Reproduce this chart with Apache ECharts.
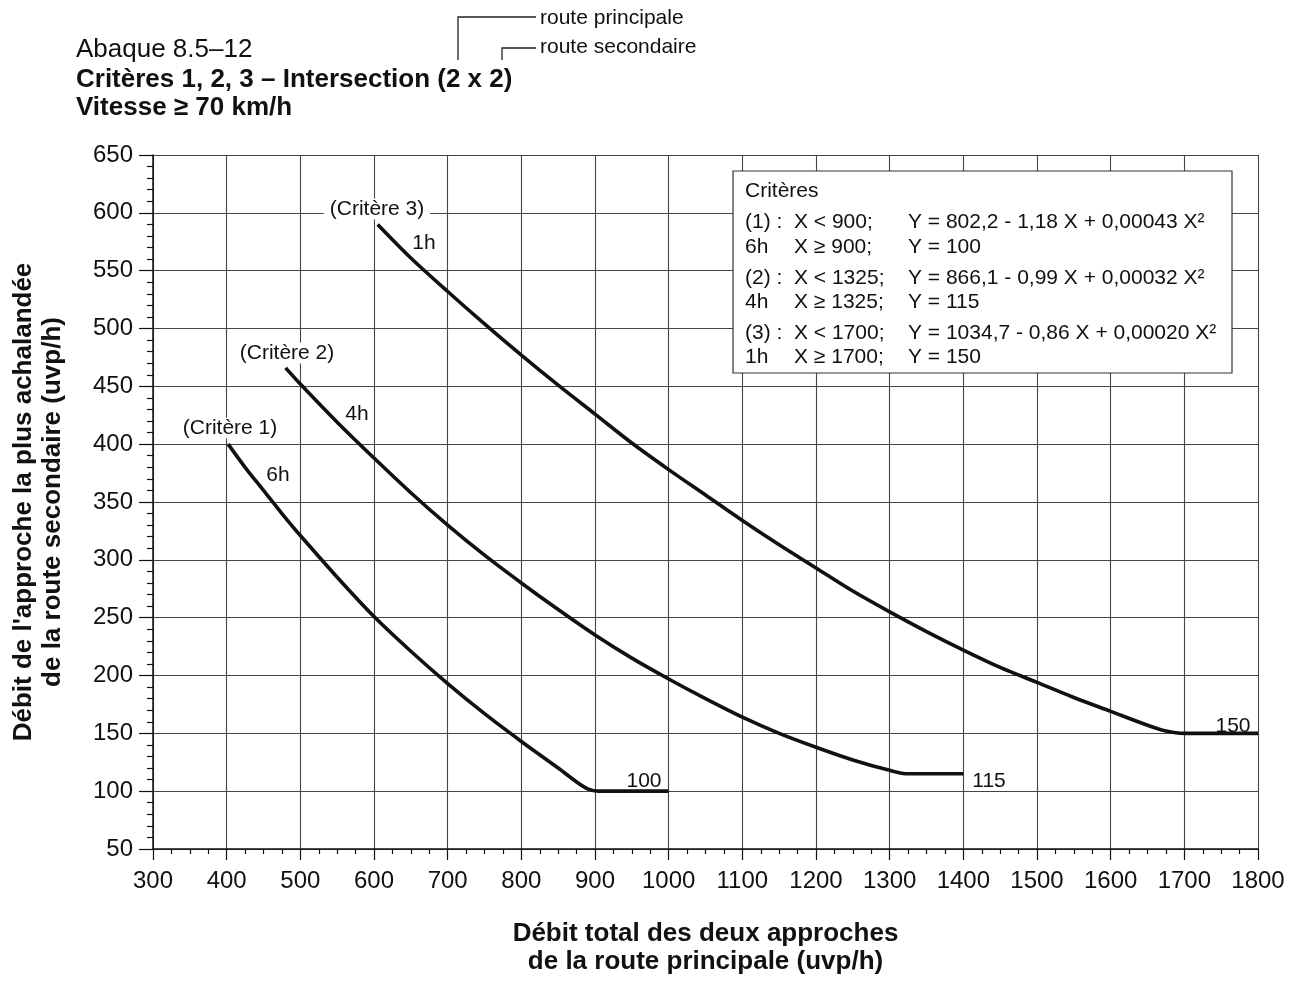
<!DOCTYPE html>
<html>
<head>
<meta charset="utf-8">
<title>Abaque 8.5-12</title>
<script src="https://cdn.jsdelivr.net/npm/echarts@6/dist/echarts.min.js"></script>
<style>
html,body{margin:0;padding:0;background:#fff;}
#chart{width:1300px;height:981px;}
</style>
</head>
<body>
<div id="chart"></div>
<script>
var FONT = "'Liberation Sans', Arial, Helvetica, sans-serif";

// axes
var xTicks = [300,400,500,600,700,800,900,1000,1100,1200,1300,1400,1500,1600,1700,1800];
var yTicks = [50,100,150,200,250,300,350,400,450,500,550,600,650];

// Critère 1 (6h)
var crit1X = [402,425,450,475,500,550,600,650,700,750,800,850,875,890,905,950,1000];
var crit1Y = [400,380,360,340,321,285,251,221,193,167,143,120,108,102,100,100,100];

// Critère 2 (4h)
var crit2X = [480,500,550,600,650,700,750,800,850,900,950,1000,1050,1100,1150,1200,1250,1300,1325,1350,1400];
var crit2Y = [466,452,419,388,358,330,304,280,257,235,215,197,180,164,150,138,127,118,115,115,115];

// Critère 3 (1h)
var crit3X = [605,650,700,750,800,850,900,950,1000,1050,1100,1150,1200,1250,1300,1350,1400,1450,1500,1550,1600,1650,1675,1700,1750,1800];
var crit3Y = [590,561,532,504,477,451,426,401,378,356,334,313,293,273,255,238,222,207,194,181,169,157,152,150,150,150];

function pairs(xs, ys){
	var out = [];
	for(var i=0;i<xs.length;i++){
		out.push([xs[i], ys[i]]);
	}
	return out;
}

function txt(x, y, text, opt){
	opt = opt || {};
	return {
		type: 'text',
		x: x,
		y: y,
		z: 100,
		style: {
			text: text,
			fill: '#111',
			font: (opt.weight || 'normal') + ' ' + (opt.size || 21) + 'px ' + FONT,
			align: opt.align || 'left',
			verticalAlign: 'middle',
			backgroundColor: opt.bg || null,
			padding: opt.pad || 0
		}
	};
}

function curve(name, xs, ys){
	return {
		name: name,
		type: 'line',
		data: pairs(xs, ys),
		showSymbol: false,
		smooth: 0.3,
		lineStyle: {color: '#111', width: 3.6},
		z: 5
	};
}

var graphics = [];
// titre
graphics.push(txt(76, 50, 'Abaque 8.5\u201312', {size: 26}));
graphics.push(txt(76, 80, 'Crit\u00e8res 1, 2, 3 \u2013 Intersection (2 x 2)', {size: 26, weight: 'bold'}));
graphics.push(txt(76, 108, 'Vitesse \u2265 70 km/h', {size: 26, weight: 'bold'}));

// renvois route principale / secondaire
graphics.push({type: 'polyline', z: 100, shape: {points: [[458,60],[458,17],[536,17]]}, style: {stroke: '#222', lineWidth: 1.3, fill: null}});
graphics.push({type: 'polyline', z: 100, shape: {points: [[502,60],[502,48],[536,48]]}, style: {stroke: '#222', lineWidth: 1.3, fill: null}});
graphics.push(txt(540, 18, 'route principale'));
graphics.push(txt(540, 47, 'route secondaire'));

// encadré des critères
graphics.push({type: 'rect', z: 90, shape: {x: 733, y: 171, width: 499, height: 202}, style: {fill: '#fff', stroke: '#333', lineWidth: 1.2}});
var boxRows = [
	[191, 'Crit\u00e8res', '', ''],
	[222, '(1) :', 'X < 900;', 'Y = 802,2 - 1,18 X + 0,00043 X\u00b2'],
	[247, '6h', 'X \u2265 900;', 'Y = 100'],
	[278, '(2) :', 'X < 1325;', 'Y = 866,1 - 0,99 X + 0,00032 X\u00b2'],
	[302, '4h', 'X \u2265 1325;', 'Y = 115'],
	[333, '(3) :', 'X < 1700;', 'Y = 1034,7 - 0,86 X + 0,00020 X\u00b2'],
	[357, '1h', 'X \u2265 1700;', 'Y = 150']
];
for(var i=0;i<boxRows.length;i++){
	var r = boxRows[i];
	graphics.push(txt(745, r[0], r[1]));
	if(r[2]) graphics.push(txt(794, r[0], r[2]));
	if(r[3]) graphics.push(txt(908, r[0], r[3]));
}

// étiquettes des courbes
graphics.push(txt(377, 209, '(Crit\u00e8re 3)', {align: 'center', bg: '#fff', pad: [0, 6]}));
graphics.push(txt(424, 243, '1h', {align: 'center'}));
graphics.push(txt(287, 353, '(Crit\u00e8re 2)', {align: 'center', bg: '#fff', pad: [0, 4]}));
graphics.push(txt(357, 414, '4h', {align: 'center'}));
graphics.push(txt(230, 428, '(Crit\u00e8re 1)', {align: 'center', bg: '#fff', pad: [0, 4]}));
graphics.push(txt(278, 475, '6h', {align: 'center'}));
graphics.push(txt(644, 781, '100', {align: 'center'}));
graphics.push(txt(989, 781, '115', {align: 'center'}));
graphics.push(txt(1233, 726, '150', {align: 'center'}));

var option = {
	animation: false,
	backgroundColor: '#fff',
	textStyle: {fontFamily: FONT, color: '#111'},
	grid: {left: 153, right: 42, top: 155, bottom: 128},
	xAxis: {
		type: 'value',
		min: xTicks[0],
		max: xTicks[xTicks.length-1],
		interval: xTicks[1]-xTicks[0],
		name: 'D\u00e9bit total des deux approches\nde la route principale (uvp/h)',
		nameLocation: 'middle',
		nameGap: 71,
		nameTextStyle: {fontFamily: FONT, fontSize: 26, fontWeight: 'bold', color: '#111', lineHeight: 28},
		axisLine: {lineStyle: {color: '#111', width: 1.5}},
		axisTick: {length: 11, lineStyle: {color: '#111', width: 1.2}},
		minorTick: {show: true, splitNumber: 4, length: 5, lineStyle: {color: '#111', width: 1.2}},
		axisLabel: {fontFamily: FONT, fontSize: 24, color: '#111', margin: 20, formatter: function(v){ return String(v); }},
		splitLine: {show: true, lineStyle: {color: '#444', width: 1.1}}
	},
	yAxis: {
		type: 'value',
		min: yTicks[0],
		max: yTicks[yTicks.length-1],
		interval: yTicks[1]-yTicks[0],
		name: 'D\u00e9bit de l\'approche la plus achaland\u00e9e\nde la route secondaire (uvp/h)',
		nameLocation: 'middle',
		nameRotate: 90,
		nameGap: 86,
		nameTextStyle: {fontFamily: FONT, fontSize: 26, fontWeight: 'bold', color: '#111', lineHeight: 29},
		axisLine: {show: true, lineStyle: {color: '#111', width: 1.5}},
		axisTick: {show: true, length: 14, lineStyle: {color: '#111', width: 1.2}},
		minorTick: {show: true, splitNumber: 5, length: 6, lineStyle: {color: '#111', width: 1.2}},
		axisLabel: {fontFamily: FONT, fontSize: 24, color: '#111', margin: 20, formatter: function(v){ return String(v); }},
		splitLine: {show: true, lineStyle: {color: '#444', width: 1.1}}
	},
	series: [
		curve('Crit\u00e8re 1', crit1X, crit1Y),
		curve('Crit\u00e8re 2', crit2X, crit2Y),
		curve('Crit\u00e8re 3', crit3X, crit3Y)
	],
	graphic: graphics
};

var myChart = echarts.init(document.getElementById('chart'), null, {renderer: 'canvas'});
myChart.setOption(option);
</script>
</body>
</html>
